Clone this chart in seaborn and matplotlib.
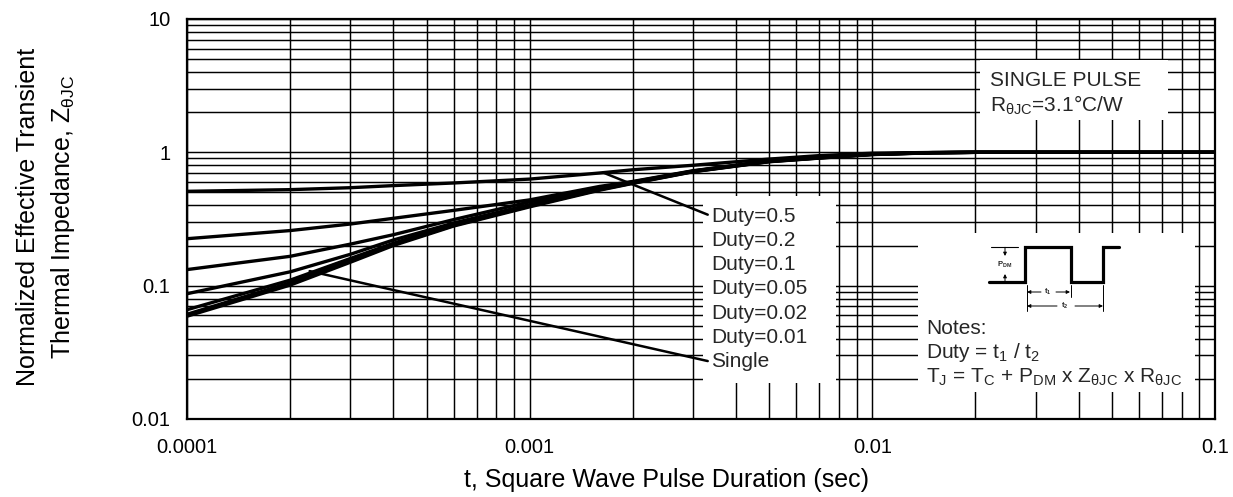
import numpy as np
import pandas as pd
import matplotlib
matplotlib.use("Agg")
import matplotlib.pyplot as plt
import seaborn as sns
from matplotlib.patches import Rectangle
from matplotlib.ticker import FixedLocator, FixedFormatter, LogLocator, NullFormatter

# ---------------- data ----------------
t_values = [1e-4, 2e-4, 3e-4, 4e-4, 6e-4, 1e-3, 1.6e-3, 2e-3, 3e-3, 5e-3,
            7e-3, 1e-2, 1.5e-2, 2e-2, 5e-2, 1e-1]
z_single = [0.059, 0.101, 0.150, 0.200, 0.280, 0.390, 0.520, 0.585, 0.715, 0.850,
            0.905, 0.962, 0.992, 1.0, 1.0, 1.0]
z_duty_001 = [0.061, 0.105, 0.155, 0.203, 0.283, 0.395, 0.525, 0.588, 0.717, 0.852,
              0.907, 0.964, 0.993, 1.0, 1.0, 1.0]
z_duty_002 = [0.066, 0.110, 0.160, 0.208, 0.287, 0.400, 0.530, 0.592, 0.720, 0.855,
              0.910, 0.966, 0.993, 1.0, 1.0, 1.0]
z_duty_005 = [0.087, 0.127, 0.172, 0.220, 0.295, 0.405, 0.535, 0.596, 0.722, 0.858,
              0.912, 0.968, 0.994, 1.0, 1.0, 1.0]
z_duty_01 = [0.132, 0.166, 0.205, 0.241, 0.313, 0.425, 0.545, 0.600, 0.725, 0.860,
             0.915, 0.970, 0.995, 1.0, 1.0, 1.0]
z_duty_02 = [0.225, 0.259, 0.290, 0.320, 0.367, 0.440, 0.555, 0.605, 0.728, 0.862,
             0.918, 0.972, 0.996, 1.0, 1.0, 1.0]
z_duty_05 = [0.510, 0.525, 0.543, 0.563, 0.589, 0.630, 0.700, 0.740, 0.800, 0.890,
             0.945, 0.985, 0.998, 1.0, 1.0, 1.0]

series_names = ["Duty=0.5", "Duty=0.2", "Duty=0.1", "Duty=0.05",
                "Duty=0.02", "Duty=0.01", "Single"]
series_values = [z_duty_05, z_duty_02, z_duty_01, z_duty_005,
                 z_duty_002, z_duty_001, z_single]

x_tick_values = [1e-4, 1e-3, 1e-2, 1e-1]
x_tick_labels = ["0.0001", "0.001", "0.01", "0.1"]
y_tick_values = [0.01, 0.1, 1, 10]
y_tick_labels = ["0.01", "0.1", "1", "10"]

x_label = "t, Square Wave Pulse Duration (sec)"
y_label = "Normalized Effective Transient\nThermal Impedance, Z$_\\mathregular{θJC}$"

# ---------------- style ----------------
sns.set_theme(style="white")
plt.rcParams["font.family"] = ["Liberation Sans", "DejaVu Sans"]
plt.rcParams["mathtext.fontset"] = "custom"
plt.rcParams["mathtext.rm"] = "Liberation Sans"
plt.rcParams["mathtext.it"] = "Liberation Sans"
plt.rcParams["mathtext.bf"] = "Liberation Sans:bold"

W, H = 1233, 497
fig = plt.figure(figsize=(W / 100, H / 100), dpi=100)
fig.patch.set_facecolor("white")
ax = fig.add_axes([187 / W, 1 - 419 / H, 1028 / W, 400 / H])

df = pd.DataFrame({
    "t": np.tile(t_values, len(series_names)),
    "Z": np.concatenate(series_values),
    "series": np.repeat(series_names, len(t_values)),
})

sns.lineplot(data=df, x="t", y="Z", hue="series", hue_order=series_names,
             palette=["black"] * len(series_names), estimator=None,
             legend=False, linewidth=2.4, ax=ax, zorder=3)

ax.set_xscale("log")
ax.set_yscale("log")
ax.set_xlim(1e-4, 0.1)
ax.set_ylim(0.01, 10)

ax.xaxis.set_major_locator(FixedLocator(x_tick_values))
ax.xaxis.set_major_formatter(FixedFormatter(x_tick_labels))
ax.yaxis.set_major_locator(FixedLocator(y_tick_values))
ax.yaxis.set_major_formatter(FixedFormatter(y_tick_labels))
ax.xaxis.set_minor_locator(LogLocator(base=10, subs=np.arange(2, 10)))
ax.yaxis.set_minor_locator(LogLocator(base=10, subs=np.arange(2, 10)))
ax.xaxis.set_minor_formatter(NullFormatter())
ax.yaxis.set_minor_formatter(NullFormatter())

ax.set_axisbelow(True)
ax.grid(True, which="both", color="black", linewidth=1.05)
ax.tick_params(which="both", length=0)
ax.tick_params(axis="x", labelsize=14.5, pad=14, colors="black")
ax.tick_params(axis="y", labelsize=14.5, pad=12, colors="black")
for s in ax.spines.values():
    s.set_color("black")
    s.set_linewidth(1.6)

ax.set_xlabel(x_label, fontsize=18, color="black")
ax.xaxis.set_label_coords((666 - 187) / 1028, (419 - 468) / 400)
ax.set_ylabel(y_label, fontsize=18, color="black", linespacing=1.45)
ax.yaxis.set_label_coords(-0.107, 0.505)

# ---------------- white boxes ----------------
def px_box(x0, y0, x1, y1):
    return Rectangle(((x0 - 187) / 1028, (419 - y1) / 400),
                     (x1 - x0) / 1028, (y1 - y0) / 400,
                     transform=ax.transAxes, facecolor="white",
                     edgecolor="none", zorder=1.5)

ax.add_patch(px_box(703, 196, 836, 383))
ax.add_patch(px_box(918, 233, 1195, 392))
ax.add_patch(px_box(980, 60, 1168, 120))

# ---------------- curve labels ----------------
def on_curve(values, t0):
    return float(np.exp(np.interp(np.log(t0), np.log(t_values), np.log(values))))

label_x = (711 - 187) / 1028
label_y0 = (419 - 216) / 400
label_dy = 24.3 / 400
for i, name in enumerate(series_names):
    ty = label_y0 - i * label_dy
    if name == "Duty=0.5":
        ax.annotate(name, xy=(1.64e-3, on_curve(z_duty_05, 1.64e-3)),
                    xytext=(label_x, ty), textcoords="axes fraction",
                    fontsize=15, ha="left", va="center", zorder=4,
                    arrowprops=dict(arrowstyle="-", lw=1.8, color="black",
                                    shrinkA=0, shrinkB=0, relpos=(0, 0.5)))
    elif name == "Single":
        ax.annotate(name, xy=(2.28e-4, on_curve(z_duty_001, 2.28e-4) * 1.08),
                    xytext=(label_x, ty), textcoords="axes fraction",
                    fontsize=15, ha="left", va="center", zorder=4,
                    arrowprops=dict(arrowstyle="-", lw=1.8, color="black",
                                    shrinkA=0, shrinkB=0, relpos=(0, 0.5)))
    else:
        ax.text(label_x, ty, name, transform=ax.transAxes, fontsize=15,
                ha="left", va="center", zorder=4)

# ---------------- notes ----------------
nx = (926 - 187) / 1028
ax.text(nx, (419 - 328) / 400, "Notes:", transform=ax.transAxes,
        fontsize=15, ha="left", va="center", zorder=4)
ax.text(nx, (419 - 353) / 400, "Duty = t$_\\mathregular{1}$ / t$_\\mathregular{2}$",
        transform=ax.transAxes, fontsize=15, ha="left", va="center", zorder=4)
ax.text(nx, (419 - 377) / 400,
        "T$_\\mathregular{J}$ = T$_\\mathregular{C}$ + P$_\\mathregular{DM}$ x "
        "Z$_\\mathregular{θJC}$ x R$_\\mathregular{θJC}$",
        transform=ax.transAxes, fontsize=15, ha="left", va="center", zorder=4)

sx = (990 - 187) / 1028
ax.text(sx, (419 - 81) / 400, "SINGLE PULSE", transform=ax.transAxes,
        fontsize=15, ha="left", va="center", zorder=4)
ax.text(sx, (419 - 105) / 400, "R$_\\mathregular{θJC}$=3.1°C/W",
        transform=ax.transAxes, fontsize=15, ha="left", va="center", zorder=4)

# ---------------- pulse schematic ----------------
pulse_x = [989, 1025, 1025, 1071, 1071, 1103, 1103, 1119]
pulse_y = [281.7, 281.7, 247.3, 247.3, 281.7, 281.7, 247.3, 247.3]
iax = fig.add_axes([980 / W, 1 - 318 / H, 145 / W, 80 / H])
iax.set_xlim(980, 1125)
iax.set_ylim(318, 238)
iax.axis("off")
iax.patch.set_alpha(0)
iax.plot(pulse_x, pulse_y, color="black", lw=2.3, solid_joinstyle="miter")
iax.plot([991, 1018], [247.3, 247.3], color="black", lw=0.8)
ap = dict(arrowstyle="-|>", lw=0.7, color="black", mutation_scale=5,
          shrinkA=0, shrinkB=0)
iax.annotate("", xy=(1005, 256), xytext=(1005, 247.3), arrowprops=ap)
iax.annotate("", xy=(1005, 274), xytext=(1005, 281.7), arrowprops=ap)
iax.text(1005, 265, "P$_\\mathregular{DM}$", fontsize=5.5, fontweight="bold",
         ha="center", va="center")
for xv, y1 in [(1026.7, 311), (1070.5, 297), (1103, 311)]:
    iax.plot([xv, xv], [285, y1], color="black", lw=0.7)
iax.annotate("", xy=(1027, 292), xytext=(1041, 292), arrowprops=ap)
iax.annotate("", xy=(1070, 292), xytext=(1056, 292), arrowprops=ap)
iax.text(1048, 292, "t$_\\mathregular{1}$", fontsize=5.5, fontweight="bold",
         ha="center", va="center")
iax.annotate("", xy=(1027, 306), xytext=(1057, 306), arrowprops=ap)
iax.annotate("", xy=(1103, 306), xytext=(1075, 306), arrowprops=ap)
iax.text(1065, 306, "t$_\\mathregular{2}$", fontsize=5.5, fontweight="bold",
         ha="center", va="center")

fig.savefig("out.png", dpi=100, facecolor="white")
